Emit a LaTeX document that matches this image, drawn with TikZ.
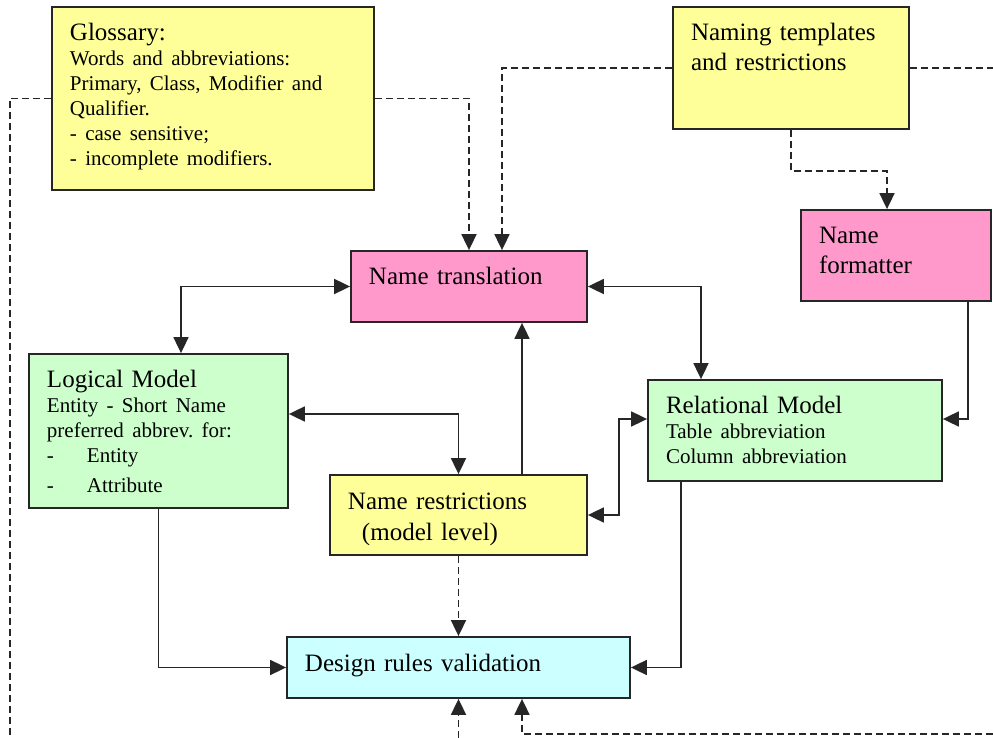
\documentclass[tikz,border=0pt]{standalone}
\usepackage{fontspec}
\setmainfont{Liberation Serif}
\usetikzlibrary{positioning,arrows.meta}
\definecolor{notepaper}{HTML}{FFFF99}
\definecolor{pinkpaper}{HTML}{FF99CC}
\definecolor{greenpaper}{HTML}{CCFFCC}
\definecolor{cyanpaper}{HTML}{CCFFFF}
\newcommand{\bigtxt}{\fontsize{25}{30}\selectfont}
\newcommand{\smalltxt}{\fontsize{21}{25}\selectfont}
\tikzset{
  box/.style={
    draw=black!85,
    line width=1.8pt,
    inner xsep=18pt,
    inner ysep=0pt,
    text height=34pt,
    align=left,
    font=\bigtxt
  },
  tip/.tip={Triangle[length=16pt,width=15pt]},
  dashline/.style={line width=1.8pt, draw=black!85, dash pattern=on 7pt off 4pt},
  flow/.style={line width=1.8pt, draw=black!85, -tip},
  twoway/.style={flow, tip-tip},
  feed/.style={dashline, -tip}
}

\begin{document}
\begin{tikzpicture}
      \coordinate (SW) at (-469pt,-451.5pt);
      \coordinate (NE) at (524pt,286.5pt);
      \useasboundingbox (SW) rectangle (NE);

      \node [box, fill=pinkpaper, text width=200pt, text depth=37pt] (Translation) at (0,0) {Name translation};
      \node [box, fill=notepaper, text width=286pt, text depth=149pt, on grid,
        above left=188pt and 256pt of Translation] (Glossary)
        {Glossary:\\ \smalltxt Words and abbreviations:\\ Primary, Class, Modifier and\\ Qualifier.\\ - case sensitive;\\ - incomplete modifiers.\par};
      \node [box, fill=notepaper, text width=200pt, text depth=88pt, on grid,
        above right=218.5pt and 322pt of Translation] (Naming) {Naming templates\\and restrictions};
      \node [box, fill=pinkpaper, text width=154pt, text depth=57pt, on grid,
        below right=187.5pt and 105pt of Naming] (Formatter) {Name\\formatter};
      \node [box, fill=greenpaper, text width=223pt, text depth=120pt, on grid,
        below left=144.5pt and 310.5pt of Translation] (Logical)
        {Logical Model\\ \smalltxt Entity - Short Name\\ preferred abbrev.\ for:\\ \makebox[40pt][l]{-}Entity\\[5pt] \makebox[40pt][l]{-}Attribute\par};
      \node [box, fill=greenpaper, text width=258pt, text depth=67pt, on grid,
        below right=144pt and 326pt of Translation] (Relational)
        {Relational Model\\ \smalltxt Table abbreviation\\ Column abbreviation\par};
      \node [box, fill=notepaper, text width=221pt, text depth=46pt, on grid,
        below left=228.5pt and 10.5pt of Translation] (Restrictions)
        {\fontsize{25}{31}\selectfont Name restrictions\\ \hspace*{14pt}(model level)\par};
      \node [box, fill=cyanpaper, text width=307pt, text depth=27pt, on grid,
        below=152.5pt of Restrictions] (Design) {Design rules validation};

      % dashed feeds from the sources
      \coordinate (LeftEnd) at (-459pt,-451.5pt);
      \coordinate (RightLow) at (524pt,-447.5pt);
      \draw[dashline] (Glossary.west) -| (LeftEnd);
      \draw[feed] (Glossary.east) -| (Translation.north);
      \draw[feed] (Naming.west) -| ([xshift=33pt]Translation.north);
      \draw[dashline] (Naming.east) -- (Naming.east -| NE);
      \draw[feed] (Naming.south) -- ++(0,-41pt) -| ([xshift=-9pt]Formatter.north);

      % model links
      \draw[twoway] (Translation.west) -| ([xshift=22.5pt]Logical.north);
      \draw[twoway] (Translation.east) -| ([xshift=-94pt]Relational.north);
      \draw[flow] ([xshift=72pt]Formatter.south) |- ([yshift=11.5pt]Relational.east);
      \draw[twoway] ([yshift=17pt]Logical.east) -| (Restrictions.north);
      \coordinate (RestrUp) at ([xshift=63.5pt]Restrictions.north);
      \draw[flow] (RestrUp) -- (RestrUp |- Translation.south);
      \draw[twoway] (Restrictions.east) -- ++(31pt,0) |- ([yshift=11.5pt]Relational.west);

      % into validation
      \draw[feed] (Restrictions.south) -- (Design.north);
      \draw[flow] (Logical.south) |- (Design.west);
      \draw[flow] ([xshift=-114pt]Relational.south) |- (Design.east);
      \draw[feed] (Design.south |- SW) -- (Design.south);
      \draw[feed] (RightLow) -| ([xshift=63.5pt]Design.south);
    \end{tikzpicture}
\end{document}
